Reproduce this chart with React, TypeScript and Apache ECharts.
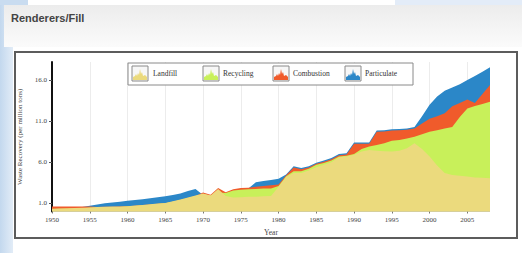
import React, { useEffect, useRef } from "react";
import * as echarts from "echarts";

const years: number[] = Array.from({ length: 59 }, (_, i) => 1950 + i);

const landfill = [
  0.35, 0.38, 0.4, 0.42, 0.45, 0.5, 0.55, 0.58, 0.6, 0.62,
  0.65, 0.72, 0.8, 0.88, 0.97, 1.05, 1.25, 1.45, 1.7, 1.95,
  2.2, 1.95, 2.75, 1.9, 1.7, 1.75, 1.8, 1.8, 1.85, 1.9,
  3.0, 4.2, 4.7, 4.7, 5.0, 5.4, 5.7, 6.0, 6.6, 6.7,
  6.9, 7.3, 7.5, 7.4, 7.35, 7.3, 7.4, 7.7, 8.3, 7.6,
  6.7, 5.6, 4.7, 4.45, 4.35, 4.25, 4.15, 4.1, 4.05,
];

const recycling = [
  0.3, 0.32, 0.34, 0.36, 0.4, 0.45, 0.5, 0.52, 0.54, 0.56,
  0.6, 0.66, 0.74, 0.82, 0.9, 1.0, 1.2, 1.4, 1.6, 1.9,
  2.1, 1.95, 2.3, 2.25, 2.55, 2.65, 2.7, 2.75, 2.8, 2.8,
  3.1, 4.3, 4.9, 4.9, 5.2, 5.7, 5.9, 6.2, 6.7, 6.8,
  7.0, 7.6, 7.9, 8.1, 8.3, 8.6, 8.7, 8.9, 9.1, 9.4,
  9.7, 9.9, 10.1, 10.3, 11.5, 12.55, 12.85, 13.1, 13.35,
];

const combustion = [
  0.6, 0.6, 0.6, 0.6, 0.6, 0.6, 0.55, 0.57, 0.59, 0.61,
  0.64, 0.7, 0.78, 0.86, 0.95, 1.0, 1.2, 1.4, 1.65, 1.9,
  2.3, 2.05, 2.85, 2.35, 2.7, 2.85, 2.9, 3.0, 3.1, 3.2,
  3.3, 4.4, 5.35, 5.15, 5.35, 5.8, 6.05, 6.35, 6.85, 6.95,
  8.25, 8.25, 8.25, 9.7, 9.75, 9.85, 9.9, 9.95, 10.1, 10.7,
  11.3, 11.6, 11.95, 12.8, 13.2, 13.65, 13.2, 14.3, 15.4,
];

const particulate = [
  0.55, 0.55, 0.55, 0.55, 0.55, 0.7, 0.85, 1.0, 1.1, 1.2,
  1.3, 1.4, 1.5, 1.6, 1.72, 1.85, 2.0, 2.2, 2.5, 2.75,
  2.0, 1.9, 2.5, 2.2, 2.5, 2.7, 2.8, 3.55, 3.7, 3.85,
  4.0, 4.5, 5.5, 5.3, 5.5, 5.95, 6.2, 6.5, 7.0, 7.1,
  8.4, 8.4, 8.4, 9.85, 9.9, 10.0, 10.05, 10.1, 10.3, 11.6,
  13.0, 14.0, 14.7, 15.1, 15.5, 16.0, 16.5, 17.0, 17.55,
];

const yTickValues = [1, 6, 11, 16];
const xTickValues = [1950, 1955, 1960, 1965, 1970, 1975, 1980, 1985, 1990, 1995, 2000, 2005];
const seriesNames = ["Landfill", "Recycling", "Combustion", "Particulate"];
const seriesColors = ["#ebda7d", "#c8f05a", "#f05b2b", "#2b87c8"];

const SERIF = '"Liberation Serif", "DejaVu Serif", serif';

const ICON_PTS = [
  [1, 14], [1, 11], [3, 10], [4, 8], [5, 10], [6, 7], [7, 9], [8, 3],
  [9, 8], [10, 6], [11, 10], [13, 9], [15, 11], [15, 14],
];

function legendItem(name: string, color: string, ix: number, tx: number) {
  const iy = 66;
  return [
    {
      type: "rect",
      shape: { x: ix, y: iy, width: 16, height: 15 },
      style: { fill: "#f7f7f7", stroke: "#8a8a8a", lineWidth: 1 },
      z: 100,
    },
    {
      type: "polygon",
      shape: { points: ICON_PTS.map(([px, py]) => [ix + px, iy + py]) },
      style: { fill: color },
      z: 101,
    },
    {
      type: "text",
      x: tx,
      y: 73.5,
      style: {
        text: name,
        fill: "#333",
        fontSize: 7.5,
        fontFamily: SERIF,
        verticalAlign: "middle",
      },
      z: 101,
    },
  ];
}

export default function App() {
  const ref = useRef<HTMLDivElement>(null);

  useEffect(() => {
    if (!ref.current) return;
    const chart = echarts.init(ref.current, undefined, { renderer: "svg" });

    const mk = (name: string, vals: number[], color: string) => ({
      type: "line",
      name,
      data: years.map((y, i) => [y, vals[i]]),
      showSymbol: false,
      symbol: "none",
      lineStyle: { width: 0, color },
      itemStyle: { color },
      areaStyle: { color, opacity: 1 },
      silent: true,
    });

    const legendXs = [
      [132, 153],
      [203, 223],
      [273, 293],
      [345, 365],
    ];

    const graphics: any[] = [
      { type: "rect", shape: { x: 0, y: 0, width: 522, height: 253 }, style: { fill: "#ffffff" }, z: -20 },
      {
        type: "rect",
        shape: { x: 0, y: 0, width: 13, height: 253 },
        style: {
          fill: new echarts.graphic.LinearGradient(0, 0, 1, 0, [
            { offset: 0, color: "#c3d8ee" },
            { offset: 1, color: "#e2ecf7" },
          ]),
        },
        z: -19,
      },
      { type: "rect", shape: { x: 0, y: 0, width: 28, height: 5 }, style: { fill: "#c9dcf0" }, z: -19 },
      { type: "rect", shape: { x: 395, y: 0, width: 127, height: 5 }, style: { fill: "#e3ecf8" }, z: -19 },
      {
        type: "rect",
        shape: { x: 4, y: 5, width: 518, height: 42 },
        style: {
          fill: new echarts.graphic.LinearGradient(0, 0, 0, 1, [
            { offset: 0, color: "#ececec" },
            { offset: 1, color: "#fbfbfb" },
          ]),
        },
        z: -18,
      },
      {
        type: "text",
        x: 11,
        y: 18,
        style: {
          text: "Renderers/Fill",
          fill: "#444",
          fontSize: 11,
          fontWeight: "bold",
          fontFamily: '"Liberation Sans", Arial, sans-serif',
          verticalAlign: "middle",
        },
        z: -17,
      },
      {
        type: "rect",
        shape: { x: 15, y: 52, width: 502, height: 186 },
        style: { fill: "#ffffff", stroke: "#5c5c5c", lineWidth: 2 },
        z: -17,
      },
      {
        type: "rect",
        shape: { x: 128, y: 63, width: 285, height: 22 },
        style: { fill: "#ffffff", stroke: "#8a8a8a", lineWidth: 1 },
        z: 99,
      },
    ];
    seriesNames.forEach((n, i) => {
      graphics.push(...legendItem(n, seriesColors[i], legendXs[i][0], legendXs[i][1]));
    });

    chart.setOption({
      animation: false,
      grid: { left: 52, right: 32, top: 62, bottom: 41.5, containLabel: false },
      xAxis: {
        type: "value",
        min: 1950,
        max: 2008,
        interval: 5,
        axisLine: { show: false },
        axisTick: { show: true, length: 2, customValues: xTickValues, lineStyle: { color: "#777" } },
        axisLabel: {
          customValues: xTickValues,
          formatter: (v: number) => String(v),
          fontSize: 7,
          fontFamily: SERIF,
          color: "#444",
          margin: 5,
        },
        splitLine: { show: true, lineStyle: { color: "#ececec", width: 1 } },
        name: "Year",
        nameLocation: "middle",
        nameGap: 16,
        nameTextStyle: { fontSize: 7.5, fontFamily: SERIF, color: "#444" },
      },
      yAxis: {
        type: "value",
        min: 0,
        max: 18.2,
        axisLine: { show: true, lineStyle: { color: "#111", width: 2 } },
        axisTick: { show: true, length: 3, customValues: yTickValues, lineStyle: { color: "#555" } },
        axisLabel: {
          customValues: yTickValues,
          formatter: (v: number) => v.toFixed(1),
          fontSize: 7,
          fontFamily: SERIF,
          color: "#444",
          margin: 5,
        },
        splitLine: { show: false },
        name: "Waste Recovery (per million tons)",
        nameLocation: "middle",
        nameGap: 28,
        nameTextStyle: { fontSize: 7, fontFamily: SERIF, color: "#444" },
      },
      graphic: { elements: graphics },
      series: [
        mk(seriesNames[3], particulate, seriesColors[3]),
        mk(seriesNames[2], combustion, seriesColors[2]),
        mk(seriesNames[1], recycling, seriesColors[1]),
        mk(seriesNames[0], landfill, seriesColors[0]),
      ],
    });

    return () => chart.dispose();
  }, []);

  return (
    <div
      ref={ref}
      style={{ position: "absolute", left: 0, top: 0, width: 522, height: 253 }}
    />
  );
}
